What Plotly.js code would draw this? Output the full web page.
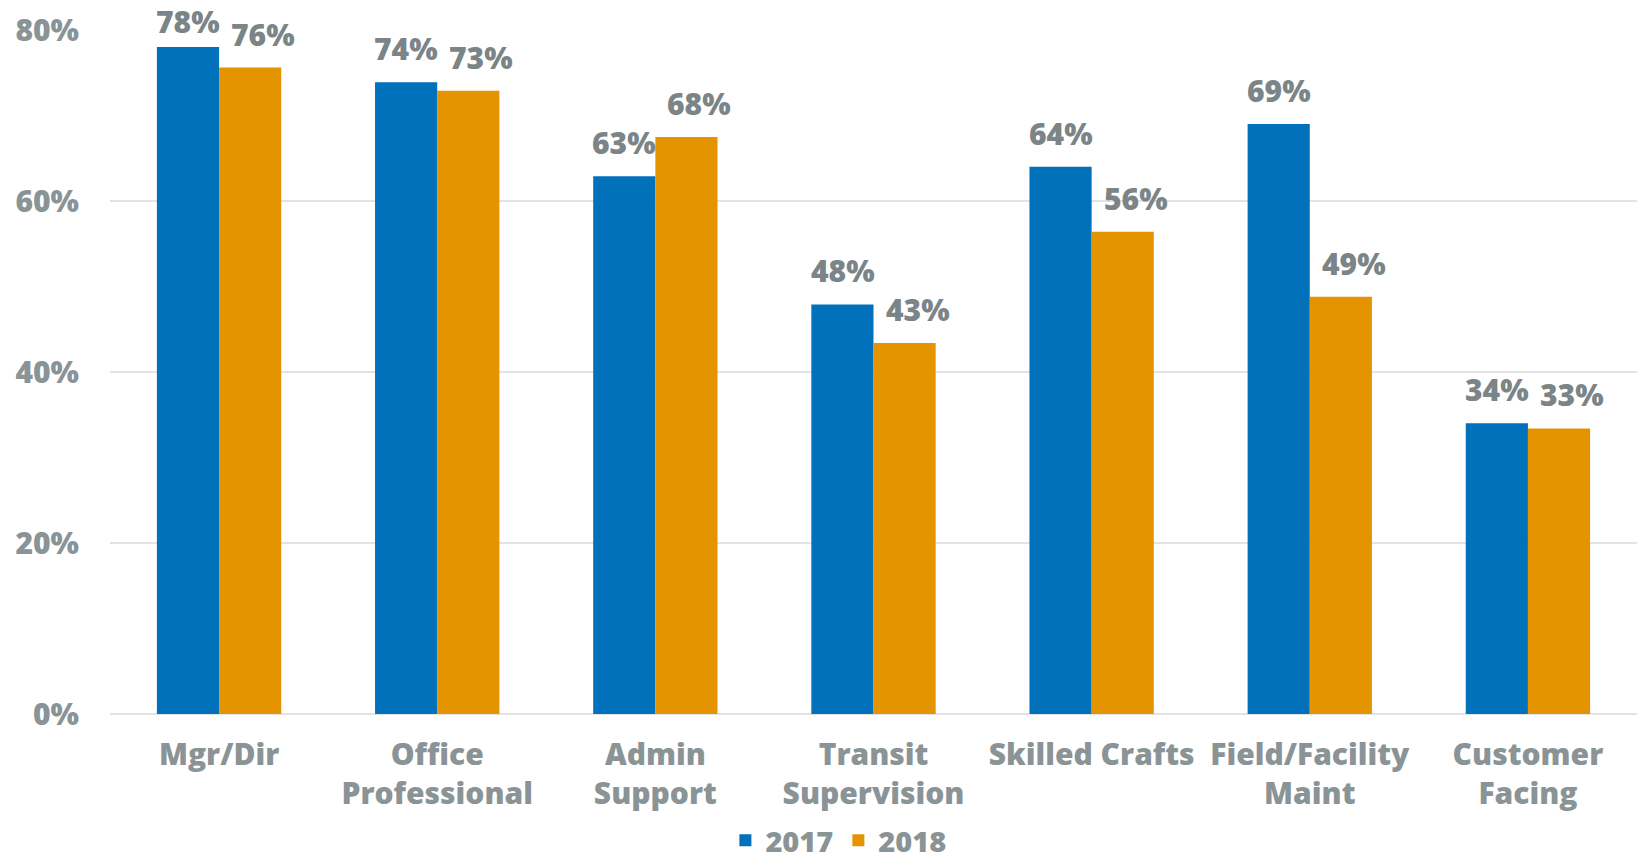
<!DOCTYPE html>
<html>
<head>
<meta charset="utf-8">
<script src="https://cdn.plot.ly/plotly-3.0.1.min.js"></script>
<style>html,body{margin:0;padding:0;overflow:hidden;background:#fff}#chart{width:1637px;height:866px}</style>
</head>
<body>
<div id="chart"></div>
<script>
const categories = ["Mgr/Dir", "Office<br>Professional", "Admin<br>Support", "Transit<br>Supervision", "Skilled Crafts", "Field/Facility<br>Maint", "Customer<br>Facing"];
const values2017 = [78.0, 73.9, 62.9, 47.9, 64.0, 69.0, 34.0];
const values2018 = [75.6, 72.9, 67.5, 43.4, 56.4, 48.8, 33.4];
const seriesNames = ["2017", "2018"];
const yTickVals = [0, 20, 40, 60, 80];
const yTickText = ["0%", "20%", "40%", "60%", "80%"];

const FONT = "'Open Sans', 'Noto Sans', sans-serif";
const BLUE = "#0071BA";
const ORANGE = "#E39400";
const TICK = "#8a9496";
const LABEL = "#7b8587";

const traces = [
  {type: "bar", name: seriesNames[0], x: categories, y: values2017, marker: {color: BLUE}, hoverinfo: "none"},
  {type: "bar", name: seriesNames[1], x: categories, y: values2018, marker: {color: ORANGE}, hoverinfo: "none"}
];

function shiftFor(v) { return v > 76 ? 3 : 11; }
const annotations = [];
categories.forEach((c, i) => {
  annotations.push({x: c, y: values2017[i], xref: "x", yref: "y", text: Math.round(values2017[i]) + "%",
    showarrow: false, yanchor: "bottom", xanchor: "center", xshift: -31, yshift: shiftFor(values2017[i]),
    font: {family: FONT, size: 30, color: LABEL, weight: 800}});
  annotations.push({x: c, y: values2018[i], xref: "x", yref: "y", text: Math.round(values2018[i]) + "%",
    showarrow: false, yanchor: "bottom", xanchor: "center", xshift: 44, yshift: 11,
    font: {family: FONT, size: 30, color: LABEL, weight: 800}});
});

const layout = {
  width: 1637, height: 866,
  margin: {l: 110, r: 0, t: 30, b: 152, autoexpand: false},
  paper_bgcolor: "#fff", plot_bgcolor: "#fff",
  barmode: "group", bargap: 0.43, bargroupgap: 0,
  showlegend: true,
  legend: {orientation: "h", x: 0.477, xanchor: "center", y: -0.2222, yanchor: "bottom",
    font: {family: FONT, size: 29, color: TICK, weight: 800}, itemwidth: 30, traceorder: "normal"},
  xaxis: {type: "category", tickfont: {family: FONT, size: 30, color: TICK, weight: 800},
    showgrid: false, zeroline: false, showline: false, ticks: "outside", ticklen: 14, tickcolor: "rgba(0,0,0,0)", automargin: false},
  yaxis: {range: [0, 80], tickvals: yTickVals, ticktext: yTickText,
    tickfont: {family: FONT, size: 30, color: TICK, weight: 800},
    showgrid: true, gridcolor: "#e3e3e3", gridwidth: 2, zeroline: true, zerolinecolor: "#e3e3e3", zerolinewidth: 2,
    ticks: "outside", ticklen: 24, tickcolor: "rgba(0,0,0,0)", automargin: false},
  annotations: annotations
};

Plotly.newPlot("chart", traces, layout, {staticPlot: true, displayModeBar: false});
</script>
</body>
</html>
